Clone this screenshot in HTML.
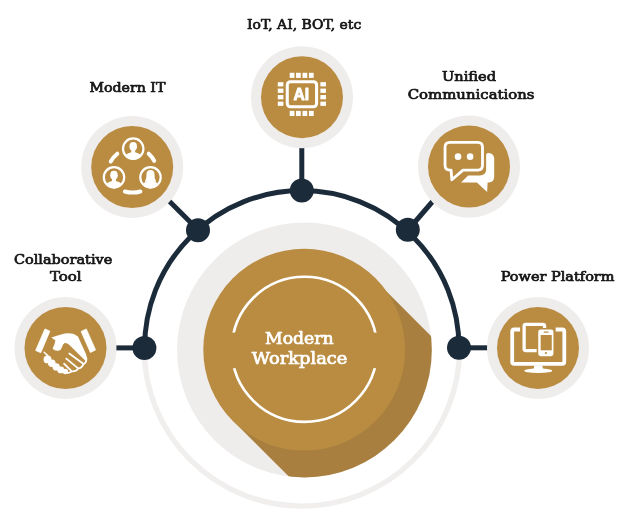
<!DOCTYPE html>
<html lang="en">
<head>
<meta charset="utf-8">
<title>Modern Workplace</title>
<style>
html,body{margin:0;padding:0;background:#fff;}
body{width:631px;height:526px;overflow:hidden;position:relative;}
svg{position:absolute;left:0;top:0;display:block;}
text{filter:opacity(1);}
.lbl{font-family:"DejaVu Serif","Liberation Serif",serif;font-weight:normal;font-size:12.8px;fill:#161616;stroke:#161616;stroke-width:0.7px;stroke-linejoin:round;}
.ctr{font-family:"DejaVu Serif","Liberation Serif",serif;font-weight:normal;font-size:16px;fill:#fff;stroke:#fff;stroke-width:0.7px;stroke-linejoin:round;}
</style>
</head>
<body>
<svg width="631" height="526" viewBox="0 0 631 526">
  <defs>
    <clipPath id="gclip"><circle cx="304.4" cy="350" r="127.4"/></clipPath>
  </defs>
  <rect width="631" height="526" fill="#fff"/>

  <!-- outer light ring (lower half) -->
  <path d="M144.2 348.4 A157.7 157.7 0 0 0 459.6 348.4" fill="none" stroke="#f1eeee" stroke-width="5.4"/>

  <!-- centre disks -->
  <circle cx="304.4" cy="350" r="127.4" fill="#efecec"/>
  <g clip-path="url(#gclip)">
    <polygon points="374.6,279.5 233.0,420.7 433.0,620.7 574.6,479.5" fill="#a87f3e"/>
  </g>
  <circle cx="304.2" cy="349.7" r="100.9" fill="#b98c42"/>
  <!-- white ring arcs -->
  <circle cx="304.5" cy="349.3" r="72.6" fill="none" stroke="#fff" stroke-width="2.6"/>
  <rect x="220" y="332.6" width="170" height="35.6" fill="#b98c42"/>

  <!-- connectors -->
  <g stroke="#1c2b3a" stroke-width="5" fill="none" stroke-linecap="butt">
    <path d="M144.6 347.8 A157.2 157.2 0 0 1 459 347.8"/>
    <line x1="115" y1="347.9" x2="144.6" y2="347.9"/>
    <line x1="459" y1="347.8" x2="488" y2="347.8"/>
    <line x1="301.8" y1="146" x2="301.8" y2="190.4"/>
    <line x1="168.6" y1="200.4" x2="198" y2="229.8"/>
    <line x1="433" y1="201" x2="408" y2="230"/>
  </g>
  <g fill="#1c2b3a">
    <circle cx="144.4" cy="347.9" r="12"/>
    <circle cx="459" cy="347.8" r="12"/>
    <circle cx="301.8" cy="190.4" r="12"/>
    <circle cx="198" cy="230.2" r="12"/>
    <circle cx="407.8" cy="229.8" r="12"/>
  </g>

  <!-- satellite circles -->
  <g>
    <circle cx="65.5" cy="348" r="51" fill="#efecec"/><circle cx="65.5" cy="348" r="41" fill="#b98c42"/>
    <circle cx="132.2" cy="167" r="51" fill="#efecec"/><circle cx="132.2" cy="167" r="41" fill="#b98c42"/>
    <circle cx="302" cy="97.2" r="51" fill="#efecec"/><circle cx="302" cy="97.2" r="41" fill="#b98c42"/>
    <circle cx="469" cy="166.6" r="51" fill="#efecec"/><circle cx="469" cy="166.6" r="41" fill="#b98c42"/>
    <circle cx="538" cy="347.9" r="51" fill="#efecec"/><circle cx="538" cy="347.9" r="41" fill="#b98c42"/>
  </g>


  <!-- handshake icon -->
  <g id="ic-hand" fill="#fff" transform="translate(40 325) scale(0.09886)">
    <path d="M50 40 L100 62 L8 280 L-44 258 Z" stroke="#fff" stroke-width="8" stroke-linejoin="round"/>
    <path d="M416 66 L468 40 L562 252 L510 278 Z" stroke="#fff" stroke-width="8" stroke-linejoin="round"/>
    <path d="M114 126 Q190 103 250 86 Q300 78 342 92 L384 116 L464 292 Q480 335 464 366 L446 350 L308 212 Q280 178 250 182 Q230 192 222 224 Q216 254 184 260 Q138 262 128 236 Q148 200 156 156 Q136 140 114 126 Z"/>
    <g stroke="#fff" stroke-width="18" stroke-linecap="round" fill="none">
      <path d="M468 330 Q476 380 440 396 Q422 436 386 440 Q360 476 320 468 Q300 488 270 482"/>
      <path d="M296 288 L434 390"/>
      <path d="M266 340 L380 434"/>
      <path d="M244 392 L314 462"/>
    </g>
    <path d="M42 276 L80 312" stroke="#fff" stroke-width="16" stroke-linecap="round"/>
    <circle cx="76" cy="348" r="40"/>
    <circle cx="120" cy="388" r="38"/>
    <circle cx="164" cy="424" r="37"/>
    <circle cx="210" cy="454" r="35"/>
    <circle cx="256" cy="470" r="28"/>
  </g>

  <!-- people network icon -->
  <g id="ic-people" fill="#fff" transform="translate(100 135) scale(0.12167)">
    <circle cx="273" cy="112" r="84" fill="none" stroke="#fff" stroke-width="18"/><ellipse cx="273" cy="94" rx="31" ry="36"/><rect x="257" y="114" width="32" height="34"/><path d="M211 172 Q215 152 257 142 L289 142 Q331 152 335 172 Q303 204 273 202 Q243 204 211 172 Z"/>
    <circle cx="115" cy="348" r="84" fill="none" stroke="#fff" stroke-width="18"/><ellipse cx="115" cy="330" rx="31" ry="36"/><rect x="99" y="350" width="32" height="34"/><path d="M53 408 Q57 388 99 378 L131 378 Q173 388 177 408 Q145 440 115 438 Q85 440 53 408 Z"/>
    <circle cx="415" cy="348" r="84" fill="none" stroke="#fff" stroke-width="18"/><path d="M368 384 Q385 356 382 322 Q383 288 415 288 Q447 288 448 322 Q445 356 462 384 Z"/><path d="M353 408 Q357 388 399 378 L431 378 Q473 388 477 408 Q445 440 415 438 Q385 440 353 408 Z"/>
    <g stroke="#fff" stroke-width="33" stroke-linecap="round" fill="none">
      <path d="M88 218 Q110 180 142 154"/>
      <path d="M400 154 Q430 180 446 212"/>
      <path d="M204 464 Q268 482 332 464"/>
    </g>
  </g>

  <!-- AI chip icon -->
  <g id="ic-ai" fill="#fff" transform="translate(270 65) scale(0.12167)">
    <rect x="142" y="137" width="241" height="206" rx="26" fill="none" stroke="#fff" stroke-width="25"/>
    <rect x="162" y="64" width="39" height="42"/><rect x="162" y="377" width="39" height="42"/><rect x="214" y="64" width="39" height="42"/><rect x="214" y="377" width="39" height="42"/><rect x="267" y="64" width="39" height="42"/><rect x="267" y="377" width="39" height="42"/><rect x="320" y="64" width="39" height="42"/><rect x="320" y="377" width="39" height="42"/><rect x="64" y="141" width="46" height="35"/><rect x="414" y="141" width="46" height="35"/><rect x="64" y="194" width="46" height="35"/><rect x="414" y="194" width="46" height="35"/><rect x="64" y="247" width="46" height="35"/><rect x="414" y="247" width="46" height="35"/><rect x="64" y="301" width="46" height="35"/><rect x="414" y="301" width="46" height="35"/>
  </g>
  <text x="301.4" y="99.7" text-anchor="middle" fill="#fff" stroke="#fff" stroke-width="0.9" stroke-linejoin="round" style="font-family:'Liberation Sans',Arial,sans-serif;font-weight:bold;font-size:15.6px;">AI</text>

  <!-- chat icon -->
  <g id="ic-chat" fill="#fff" transform="translate(437 135) scale(0.12167)">
    <path d="M106 61 H334 Q374 61 374 101 V249 Q374 289 334 289 H214 L122 368 L116 289 H106 Q66 289 66 249 V101 Q66 61 106 61 Z" fill="none" stroke="#fff" stroke-width="23" stroke-linejoin="round"/>
    <circle cx="173" cy="178" r="27"/>
    <circle cx="272" cy="178" r="27"/>
    <path d="M404 160 Q408 148 424 148 Q470 152 470 196 V344 Q470 390 424 390 H416 L412 468 L328 390 H198 L256 332 H352 Q404 332 404 282 Z"/>
  </g>

  <!-- devices icon -->
  <g id="ic-dev" fill="#fff" transform="translate(506 316) scale(0.12167)">
    <path d="M116 111 H68 Q51 111 51 128 V378 Q51 394 68 394 H462 Q479 394 479 378 V128 Q479 111 462 111 H408" fill="none" stroke="#fff" stroke-width="31"/>
    <path d="M234 406 H298 L304 432 Q380 438 380 451 Q380 468 265 468 Q150 468 150 451 Q150 438 228 432 Z"/>
    <rect x="149" y="69" width="168" height="215" rx="14" fill="none" stroke="#fff" stroke-width="27"/>
    <rect x="252" y="98" width="151" height="245" rx="26" fill="#b98c42"/>
    <rect x="265" y="110" width="125" height="220" rx="20"/>
    <rect x="285" y="156" width="91" height="126" fill="#b98c42"/>
    <rect x="310" y="127" width="40" height="11" rx="5" fill="#b98c42"/>
    <circle cx="328" cy="304" r="9" fill="#b98c42"/>
  </g>

  <!-- labels -->
  <text class="lbl" x="247.1" y="29.4" textLength="114.1" lengthAdjust="spacingAndGlyphs">IoT, AI, BOT, etc</text>
  <text class="lbl" x="89.4" y="91.6" textLength="76" lengthAdjust="spacingAndGlyphs">Modern IT</text>
  <text class="lbl" x="442" y="81.2" textLength="54" lengthAdjust="spacingAndGlyphs">Unified</text>
  <text class="lbl" x="407.7" y="98.6" textLength="126.8" lengthAdjust="spacingAndGlyphs">Communications</text>
  <text class="lbl" x="13.9" y="264.4" textLength="98.4" lengthAdjust="spacingAndGlyphs">Collaborative</text>
  <text class="lbl" x="49.9" y="281.2" textLength="31.7" lengthAdjust="spacingAndGlyphs">Tool</text>
  <text class="lbl" x="500.7" y="280.8" textLength="113.8" lengthAdjust="spacingAndGlyphs">Power Platform</text>
  <text class="ctr" x="265" y="343.5" textLength="68.7" lengthAdjust="spacingAndGlyphs">Modern</text>
  <text class="ctr" x="251.8" y="363.5" textLength="95.6" lengthAdjust="spacingAndGlyphs">Workplace</text>
</svg>
</body>
</html>
